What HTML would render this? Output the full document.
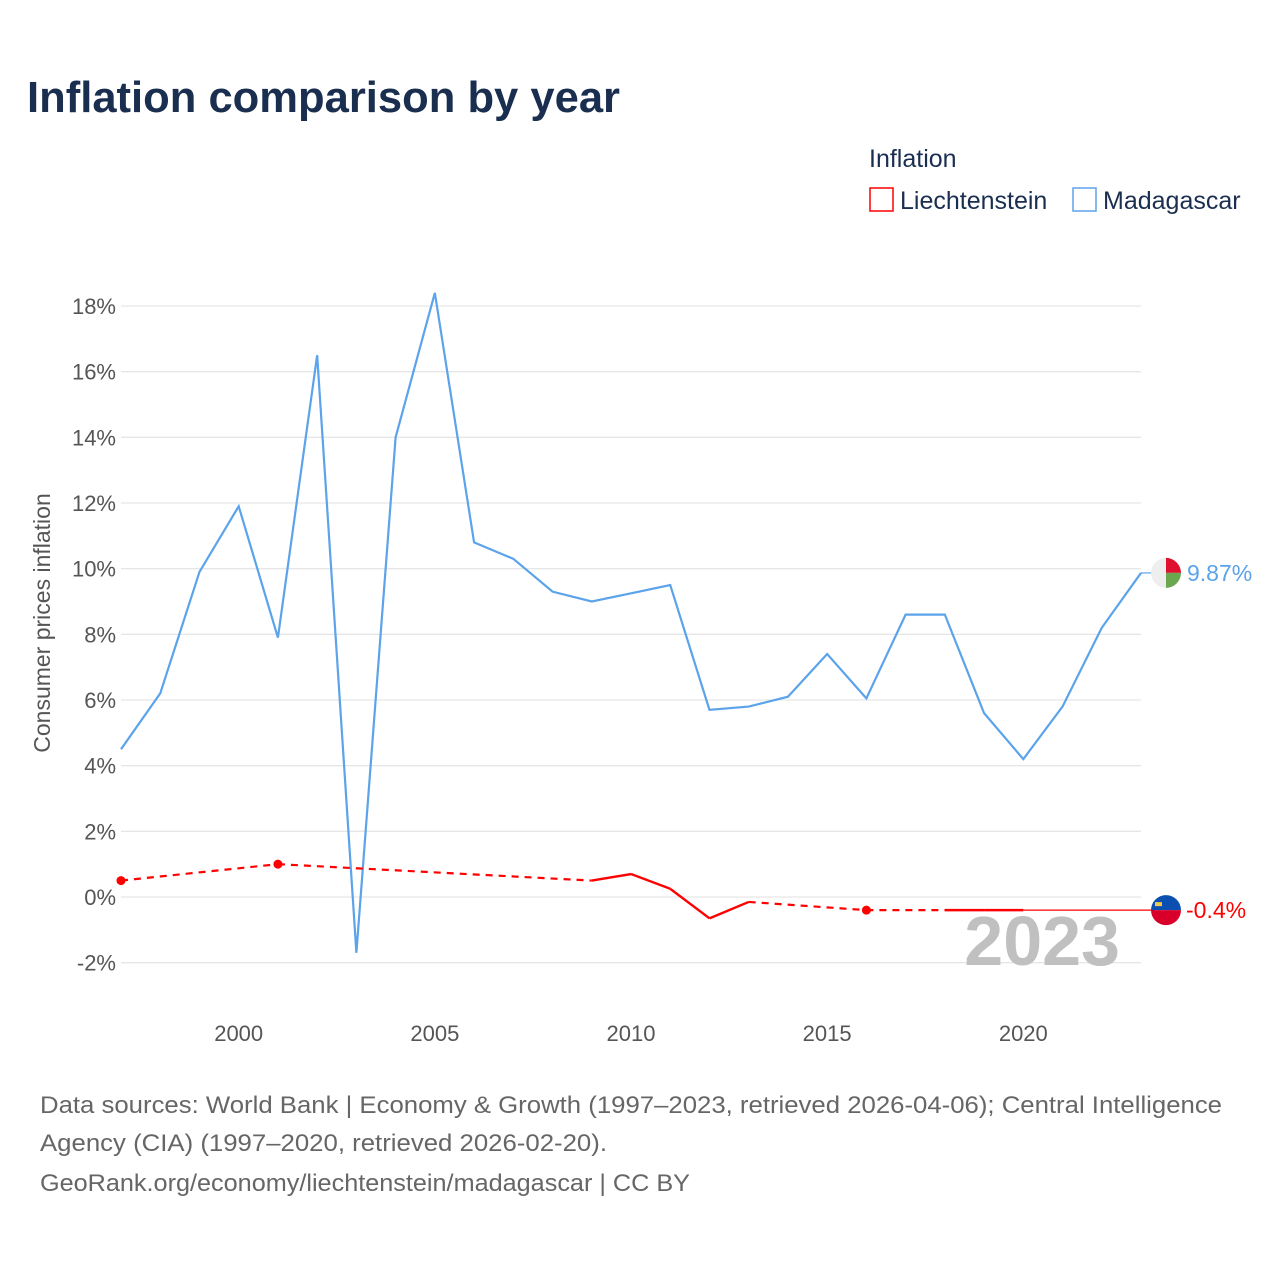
<!DOCTYPE html>
<html><head><meta charset="utf-8"><style>
body{margin:0;background:#fff;font-family:"Liberation Sans",sans-serif}
svg text{font-family:"Liberation Sans",sans-serif}
</style></head><body>
<svg width="1280" height="1280" xmlns="http://www.w3.org/2000/svg" id="chart">
<text x="27" y="112" font-size="44" font-weight="bold" fill="#1a2e4f" textLength="593" lengthAdjust="spacingAndGlyphs">Inflation comparison by year</text>
<text x="869" y="167" font-size="25" fill="#1a2e4f">Inflation</text>
<g><rect x="870" y="188" width="23" height="23" fill="none" stroke="#f00" stroke-width="1.5"/><text x="900" y="209" font-size="25" fill="#1a2e4f">Liechtenstein</text></g>
<g><rect x="1073" y="188" width="23" height="23" fill="none" stroke="#5ba3ea" stroke-width="1.5"/><text x="1103" y="209" font-size="25" fill="#1a2e4f">Madagascar</text></g>
<text transform="translate(50,623) rotate(-90)" text-anchor="middle" font-size="23" fill="#555">Consumer prices inflation</text>
<g id="grid"></g><g id="yt"></g><g id="xt"></g>
<text x="1120" y="965" text-anchor="end" font-size="70" font-weight="bold" fill="#c0c0c0">2023</text>
<g id="series"></g>
<text x="40" y="1113" font-size="24" fill="#666" textLength="1182" lengthAdjust="spacingAndGlyphs">Data sources: World Bank | Economy &amp; Growth (1997–2023, retrieved 2026-04-06); Central Intelligence</text>
<text x="40" y="1151" font-size="24" fill="#666" textLength="567" lengthAdjust="spacingAndGlyphs">Agency (CIA) (1997–2020, retrieved 2026-02-20).</text>
<text x="40" y="1191" font-size="24" fill="#666" textLength="650" lengthAdjust="spacingAndGlyphs">GeoRank.org/economy/liechtenstein/madagascar | CC BY</text>
</svg>
<script>
const yTicks=[-2,0,2,4,6,8,10,12,14,16,18];
const xTicks=[2000,2005,2010,2015,2020];
const madYears=[1997,1998,1999,2000,2001,2002,2003,2004,2005,2006,2007,2008,2009,2010,2011,2012,2013,2014,2015,2016,2017,2018,2019,2020,2021,2022,2023];
const madValues=[4.5,6.2,9.9,11.9,7.9,16.5,-1.7,14.0,18.4,10.8,10.3,9.3,9.0,9.25,9.5,5.7,5.8,6.1,7.4,6.05,8.6,8.6,5.6,4.2,5.8,8.2,9.87];
const liYears=[1997,2001,2009,2010,2011,2012,2013,2016,2018,2019,2020];
const liValues=[0.5,1.0,0.5,0.7,0.25,-0.65,-0.15,-0.4,-0.4,-0.4,-0.4];
const NS="http://www.w3.org/2000/svg";
const X=y=>121+(y-1997)*(1141-121)/26;
const Y=v=>897-v*(897-306)/18;
function mk(t,a,p){const e=document.createElementNS(NS,t);for(const k in a)e.setAttribute(k,a[k]);p.appendChild(e);return e;}
const grid=document.getElementById('grid'),yt=document.getElementById('yt'),xt=document.getElementById('xt'),ser=document.getElementById('series');
yTicks.forEach(v=>{
 const l=mk('line',{x1:121,x2:1141,y1:Y(v),y2:Y(v),stroke:'#e6e6e6','stroke-width':1.3},grid);
 
 
 const t=mk('text',{x:116,y:Y(v)+8,'text-anchor':'end','font-size':22,fill:'#555'},yt);t.textContent=v+'%';
 
 
});
xTicks.forEach(v=>{
 const t=mk('text',{x:X(v),y:1041,'text-anchor':'middle','font-size':22,fill:'#555'},xt);t.textContent=v;
 
 
});
const mp=mk('polyline',{points:madYears.map((y,i)=>X(y)+','+Y(madValues[i])).join(' '),fill:'none',stroke:'#5ba3ea','stroke-width':2.2},ser);


for(let i=0;i<liYears.length-1;i++){
 const gap=liYears[i+1]-liYears[i]>1;
 const s=mk('line',{x1:X(liYears[i]),y1:Y(liValues[i]),x2:X(liYears[i+1]),y2:Y(liValues[i+1]),stroke:'#f00','stroke-width':gap?2.2:2.4,'stroke-dasharray':gap?'7,6':''},ser);
 
 
 const isol=(i===0||liYears[i]-liYears[i-1]>1)&&gap;
 if(isol){const c=mk('circle',{cx:X(liYears[i]),cy:Y(liValues[i]),r:4.5,fill:'#f00'},ser);
 
 }
}
const lastL=liValues[liValues.length-1],lastM=madValues[madValues.length-1];
const ext=mk('line',{x1:X(liYears[liYears.length-1]),y1:Y(lastL),x2:1155,y2:Y(lastL),stroke:'#f00','stroke-width':1.2},ser);


const me=mk('line',{x1:1141,y1:Y(lastM),x2:1155,y2:Y(lastM),stroke:'#5ba3ea','stroke-width':1.2},ser);


const fm=mk('g',{},ser);


const cy1=Y(lastM);
mk('path',{d:`M1166,${cy1-15} A15,15 0 0 0 1166,${cy1+15} Z`,fill:'#eee'},fm);
mk('path',{d:`M1166,${cy1-15} A15,15 0 0 1 1181,${cy1} L1166,${cy1} Z`,fill:'#e0102f'},fm);
mk('path',{d:`M1166,${cy1} L1181,${cy1} A15,15 0 0 1 1166,${cy1+15} Z`,fill:'#6aa84f'},fm);
const fl=mk('g',{},ser);


const cy2=Y(lastL);
mk('path',{d:`M1151,${cy2} A15,15 0 0 1 1181,${cy2} Z`,fill:'#0b4fb0'},fl);
mk('path',{d:`M1151,${cy2} A15,15 0 0 0 1181,${cy2} Z`,fill:'#d8002a'},fl);
mk('rect',{x:1155,y:cy2-8,width:7,height:4,fill:'#f2c94c'},fl);
const lm=mk('text',{x:1187,y:cy1+8,'font-size':23,fill:'#5ba3ea'},ser);lm.textContent=lastM+'%';


const ll=mk('text',{x:1186,y:cy2+8,'font-size':23,fill:'#f00'},ser);ll.textContent=lastL+'%';


</script>
</body></html>
